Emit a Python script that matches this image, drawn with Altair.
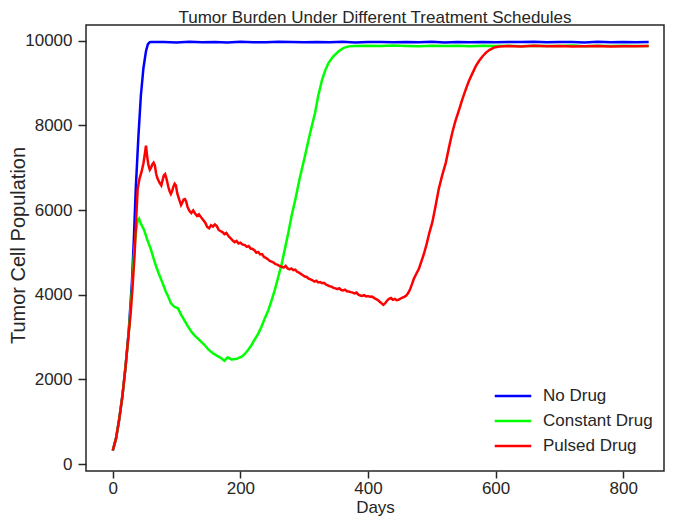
import altair as alt
import pandas as pd

# ---- data ----
no_drug_days = [0, 5, 10, 15, 20, 25, 30, 33, 36, 40, 44, 48, 52, 55, 58,
                60, 80, 100, 120, 140, 160, 180, 200, 220, 240, 260, 280, 300, 320, 340,
                360, 380, 400, 420, 440, 460, 480, 500, 520, 540, 560, 580, 600, 620,
                640, 660, 680, 700, 720, 740, 760, 780, 800, 820, 840]
no_drug_vals = [320, 600, 1050, 1600, 2300, 3150, 4300, 5300, 6500, 7700, 8700, 9350, 9750, 9920, 9965,
                9968, 9972, 9960, 9975, 9965, 9970, 9958, 9973, 9966, 9962, 9975, 9969, 9961, 9971, 9964,
                9976, 9960, 9968, 9972, 9963, 9970, 9966, 9974, 9959, 9969, 9965, 9972, 9961, 9970,
                9967, 9975, 9962, 9968, 9971, 9960, 9973, 9966, 9969, 9964, 9970]

constant_days = [0, 5, 10, 15, 20, 25, 30, 33, 36, 39, 41, 44, 49, 54, 60, 64, 68, 72, 76, 80,
                 83, 87, 91, 96, 102, 107, 112, 117, 123, 128, 133, 139, 144, 150, 157, 163, 170,
                 175, 180, 186, 193, 202, 207, 212, 217, 222, 228, 233, 238, 244, 249, 254, 259,
                 265, 270, 275, 280, 286, 293, 301, 309, 317, 322, 328, 333, 338, 345, 354, 362,
                 370, 380, 400, 420, 440, 460, 480, 500, 520, 540, 560, 580, 600, 620, 640, 660,
                 680, 700, 720, 740, 760, 780, 800, 820, 840]
constant_vals = [320, 600, 1050, 1600, 2300, 3100, 4100, 4900, 5450, 5760, 5800, 5680, 5530, 5300,
                 5060, 4850, 4665, 4500, 4350, 4200, 4075, 3950, 3800, 3720, 3680, 3530, 3400, 3270,
                 3130, 3040, 2970, 2880, 2810, 2700, 2617, 2560, 2500, 2440, 2520, 2470, 2480, 2537,
                 2600, 2695, 2800, 2930, 3080, 3245, 3430, 3640, 3870, 4113, 4400, 4745, 5100, 5454,
                 5846, 6240, 6750, 7265, 7800, 8290, 8700, 9078, 9300, 9470, 9620, 9750, 9830, 9866,
                 9875, 9880, 9872, 9884, 9876, 9869, 9882, 9874, 9878, 9870, 9883, 9875, 9879, 9871,
                 9880, 9873, 9877, 9884, 9870, 9878, 9874, 9881, 9872, 9876]

pulsed_days = [0, 5, 10, 15, 20, 25, 28, 31, 34, 37, 39, 42, 45, 48, 50, 52, 54, 56, 58, 60,
               62, 64, 66, 68, 70, 73, 76, 78, 80, 82, 84, 87, 89, 91, 93, 95, 97, 99, 101, 104,
               107, 109, 111, 113, 115, 117, 120, 123, 126, 129, 132, 135, 139, 142, 145, 148, 151,
               154, 157, 160, 163, 166, 169, 172, 175, 178, 182, 185, 188, 191, 194, 197, 200, 203,
               207, 210, 213, 216, 219, 222, 225, 228, 231, 234, 237, 240, 243, 246, 249, 252, 255,
               258, 261, 265, 268, 271, 274, 277, 280, 283, 286, 289, 292, 295, 298, 301, 304, 307,
               310, 313, 316, 319, 322, 325, 328, 331, 334, 337, 340, 343, 346, 349, 352, 355, 358,
               361, 364, 367, 370, 373, 376, 379, 382, 385, 388, 391, 394, 397, 400, 403, 406, 409,
               412, 415, 418, 421, 424, 427, 430, 433, 436, 439, 442, 445, 448, 451, 454, 457, 460,
               463, 466, 469, 472, 476, 480, 484, 488, 492, 496, 501, 506, 511, 516, 522, 527, 532,
               537, 543, 548, 553, 558, 564, 569, 574, 580, 585, 590, 598, 606, 614, 620, 640, 660,
               680, 700, 720, 740, 760, 780, 800, 820, 840]
pulsed_vals = [320, 600, 1050, 1600, 2300, 3100, 3560, 4200, 4900, 5900, 6500, 6750, 6900, 7100,
               7300, 7520, 7250, 7050, 6950, 7000, 7080, 7120, 7050, 6850, 6750, 6650, 6580, 6700,
               6820, 6850, 6750, 6550, 6450, 6380, 6450, 6550, 6620, 6580, 6400, 6250, 6120, 6180,
               6250, 6260, 6200, 6080, 5980, 5930, 5990, 5920, 5860, 5900, 5815, 5760, 5700, 5600,
               5570, 5640, 5610, 5660, 5620, 5530, 5500, 5480, 5430, 5460, 5370, 5330, 5280, 5240,
               5270, 5210, 5230, 5190, 5170, 5130, 5150, 5090, 5080, 5050, 4990, 5010, 4950, 4960,
               4890, 4870, 4840, 4800, 4780, 4760, 4720, 4710, 4680, 4660, 4640, 4680, 4620, 4600,
               4620, 4580, 4590, 4540, 4520, 4490, 4460, 4430, 4420, 4380, 4360, 4340, 4310, 4330,
               4290, 4300, 4270, 4280, 4240, 4220, 4200, 4190, 4160, 4150, 4130, 4150, 4110, 4100,
               4120, 4080, 4075, 4060, 4050, 4030, 4050, 4000, 3980, 3970, 3990, 3960, 3970, 3950,
               3955, 3930, 3900, 3880, 3840, 3800, 3760, 3800, 3860, 3900, 3920, 3880, 3900, 3870,
               3880, 3910, 3930, 3950, 3980, 4040, 4130, 4250, 4380, 4500, 4620, 4800, 4980, 5200,
               5450, 5720, 6100, 6500, 6800, 7120, 7480, 7820, 8100, 8380, 8620, 8840, 9040, 9240,
               9400, 9520, 9640, 9720, 9780, 9840, 9862, 9870, 9872, 9865, 9878, 9868, 9874, 9862,
               9870, 9876, 9866, 9871, 9868, 9873]

series_names = ["No Drug", "Constant Drug", "Pulsed Drug"]
series_colors = ["#0000ff", "#00ff00", "#ff0000"]
x_ticks = [0, 200, 400, 600, 800]
y_ticks = [0, 2000, 4000, 6000, 8000, 10000]

rows = []
for name, days, vals in [(series_names[0], no_drug_days, no_drug_vals),
                         (series_names[1], constant_days, constant_vals),
                         (series_names[2], pulsed_days, pulsed_vals)]:
    for i, (d, v) in enumerate(zip(days, vals)):
        rows.append({"series": name, "day": d, "cells": v, "idx": i})
df = pd.DataFrame(rows)

TXT = "#262626"
FONT = "Liberation Sans"
W, H = 578, 446

chart = alt.Chart(df).mark_line(strokeWidth=2.5).encode(
    x=alt.X("day:Q", title="Days",
            scale=alt.Scale(domain=[-42, 864], nice=False, zero=False),
            axis=alt.Axis(values=x_ticks, format="d", titleBaseline="alphabetic",
                          titleY=41.4, titleX=W / 2, titleFontSize=17)),
    y=alt.Y("cells:Q", title="Tumor Cell Population",
            scale=alt.Scale(domain=[-165, 10371], nice=False, zero=False),
            axis=alt.Axis(values=y_ticks, format="d", titleBaseline="alphabetic",
                          titleX=-62, titleY=220, titleFontSize=20)),
    color=alt.Color("series:N", title=None,
                    scale=alt.Scale(domain=series_names, range=series_colors),
                    legend=alt.Legend(orient="none", legendX=414, legendY=358,
                                      symbolType="M-1.6,0H1.6", symbolSize=520,
                                      symbolStrokeWidth=2.5, labelFontSize=17,
                                      labelColor=TXT, labelFont=FONT, labelOffset=17,
                                      rowPadding=4)),
    order="idx:Q",
).properties(
    width=W, height=H,
    title=alt.Title("Tumor Burden Under Different Treatment Schedules",
                    fontSize=17, fontWeight="normal", color=TXT, font=FONT,
                    anchor="middle", offset=0, dy=2),
    autosize=alt.AutoSizeParams(type="none"),
    padding={"left": 78, "top": 17, "right": 6, "bottom": 45},
).configure_view(
    stroke=TXT, strokeWidth=1.5
).configure_axis(
    grid=False, domain=False, ticks=True, tickSize=8, tickWidth=1.5, tickColor=TXT,
    labelFontSize=17, labelColor=TXT, labelFont=FONT,
    titleFontWeight="normal", titleColor=TXT, titleFont=FONT,
).configure_axisY(labelPadding=6).configure_axisX(labelPadding=2, tickSize=7)

chart.save("out.html", embed_options={"renderer": "svg", "actions": False})
